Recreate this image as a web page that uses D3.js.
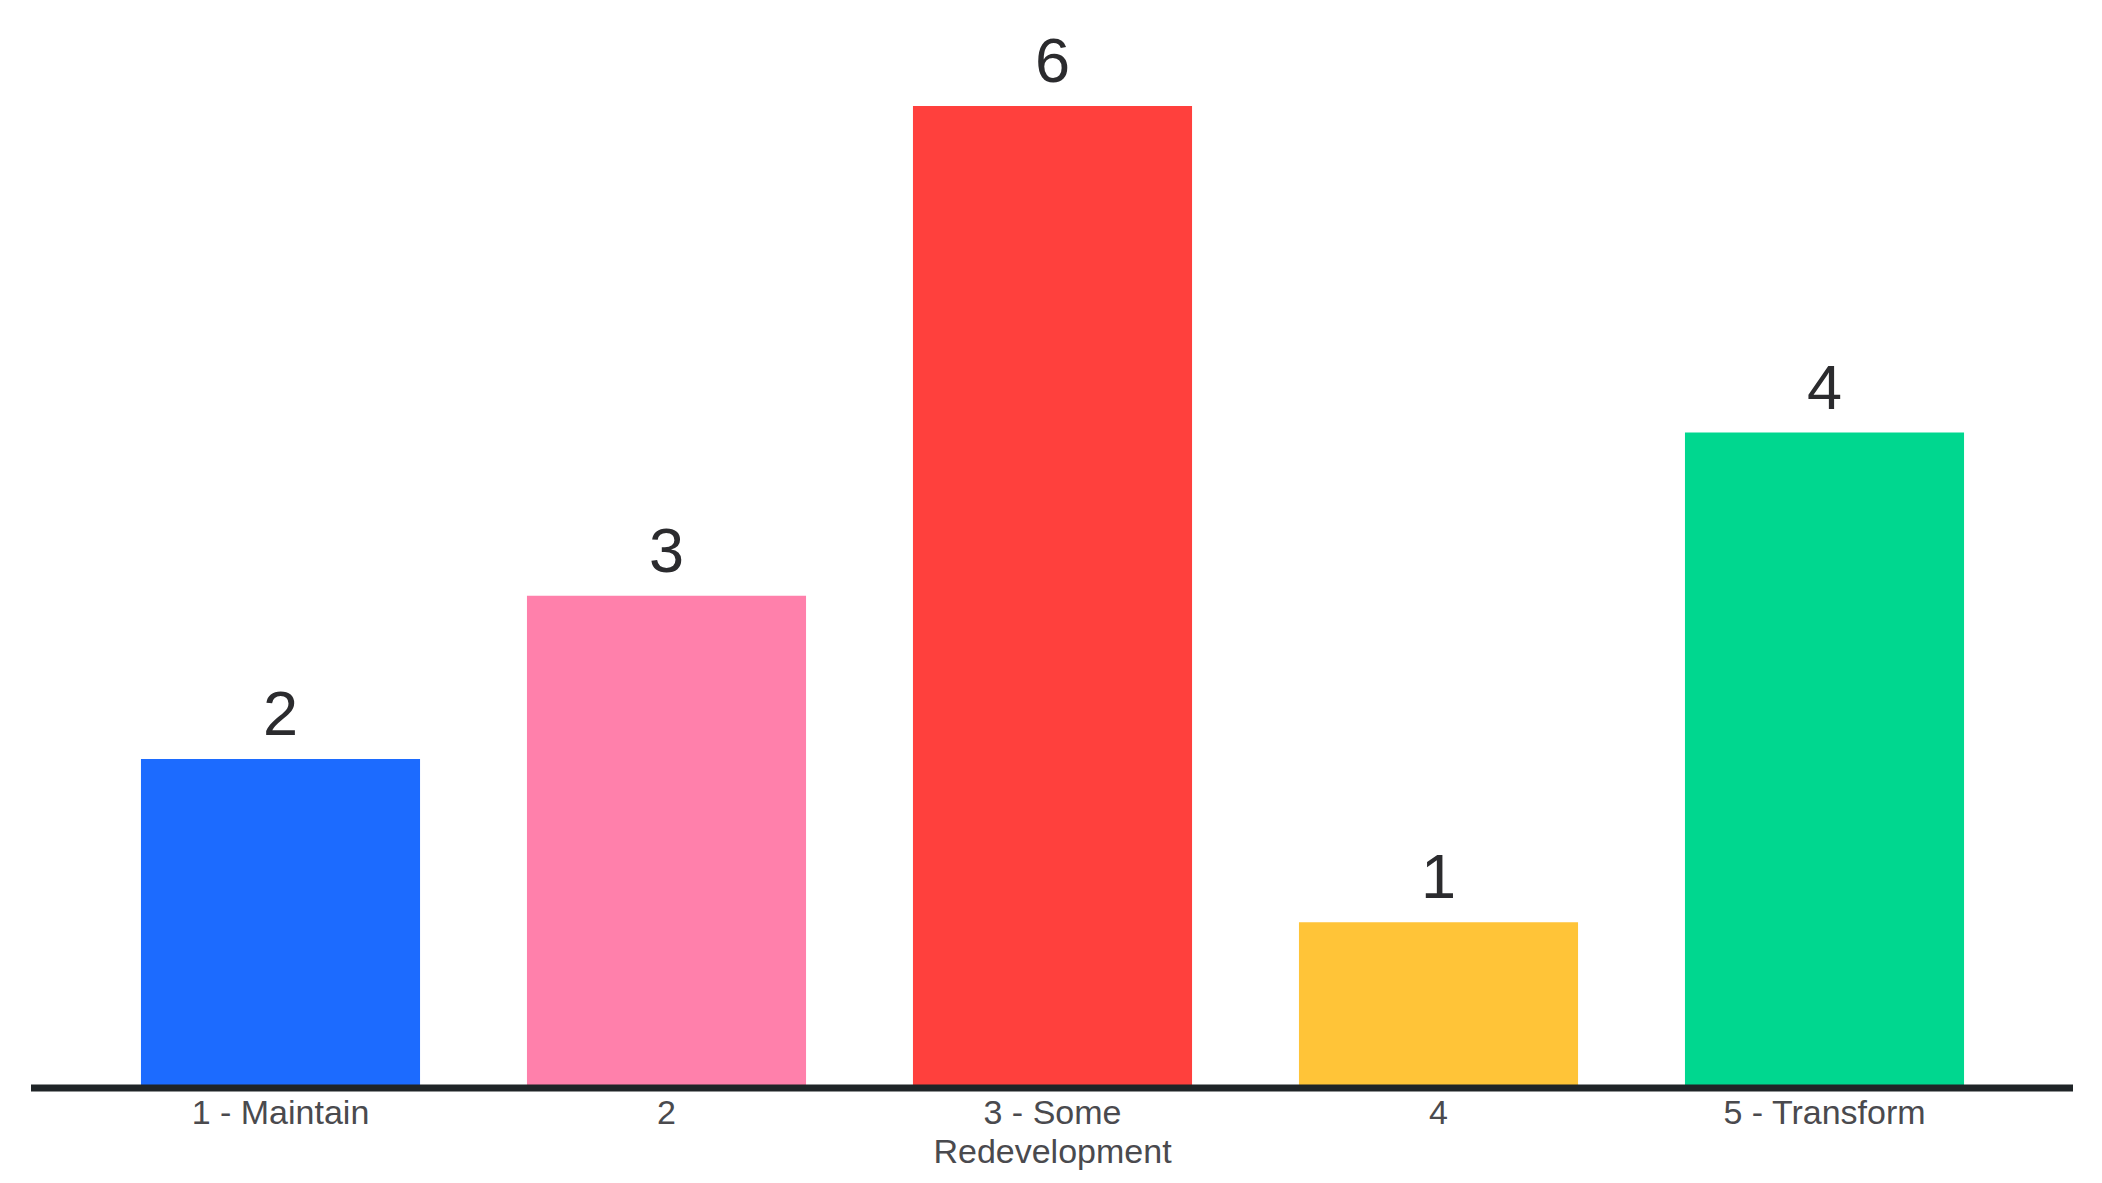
<!DOCTYPE html>
<html>
<head>
<meta charset="utf-8">
<script src="https://cdn.jsdelivr.net/npm/d3@7"></script>
<style>
  html, body { margin: 0; padding: 0; background: #ffffff; }
  svg { display: block; }
</style>
</head>
<body>
<svg id="chart" width="2102" height="1183"></svg>
<script>
// Survey responses on a 1–5 scale
const categories = ["1 - Maintain", "2", "3 - Some\nRedevelopment", "4", "5 - Transform"];
const counts = [2, 3, 6, 1, 4];
const barColors = ["#1c6bff", "#ff80ab", "#ff403d", "#ffc438", "#00d78f"];

const width = 2102, height = 1183;
const baseline = 1085.5;

const svg = d3.select("#chart");

const x = d3.scaleBand()
  .domain(categories)
  .range([87.5, 2017.5])
  .paddingInner(0.277)
  .paddingOuter(0.1385);

const y = d3.scaleLinear()
  .domain([0, 6])
  .range([baseline, 106]);

// Bars
svg.append("g")
  .selectAll("rect")
  .data(categories)
  .join("rect")
  .attr("x", d => x(d))
  .attr("y", (d, i) => y(counts[i]))
  .attr("width", x.bandwidth())
  .attr("height", (d, i) => baseline - y(counts[i]))
  .attr("fill", (d, i) => barColors[i]);

// Value labels above bars
svg.append("g")
  .selectAll("text")
  .data(categories)
  .join("text")
  .attr("x", d => x(d) + x.bandwidth() / 2)
  .attr("y", (d, i) => y(counts[i]) - 24)
  .attr("text-anchor", "middle")
  .attr("font-family", "'Liberation Sans', Arial, sans-serif")
  .attr("font-size", 63)
  .attr("fill", "#2b2b2e")
  .text((d, i) => counts[i]);

// Baseline axis
svg.append("line")
  .attr("x1", 31)
  .attr("x2", 2073)
  .attr("y1", 1088)
  .attr("y2", 1088)
  .attr("stroke", "#1f2427")
  .attr("stroke-width", 7);

// Category labels (may wrap onto two lines)
const labels = svg.append("g")
  .selectAll("text")
  .data(categories)
  .join("text")
  .attr("x", d => x(d) + x.bandwidth() / 2)
  .attr("y", 1124)
  .attr("text-anchor", "middle")
  .attr("font-family", "'Liberation Sans', Arial, sans-serif")
  .attr("font-size", 34)
  .attr("fill", "#4a4a4e");

labels.each(function(d) {
  const t = d3.select(this);
  d.split("\n").forEach((line, k) => {
    t.append("tspan")
      .attr("x", x(d) + x.bandwidth() / 2)
      .attr("dy", k === 0 ? 0 : 39)
      .text(line);
  });
});
</script>
</body>
</html>
